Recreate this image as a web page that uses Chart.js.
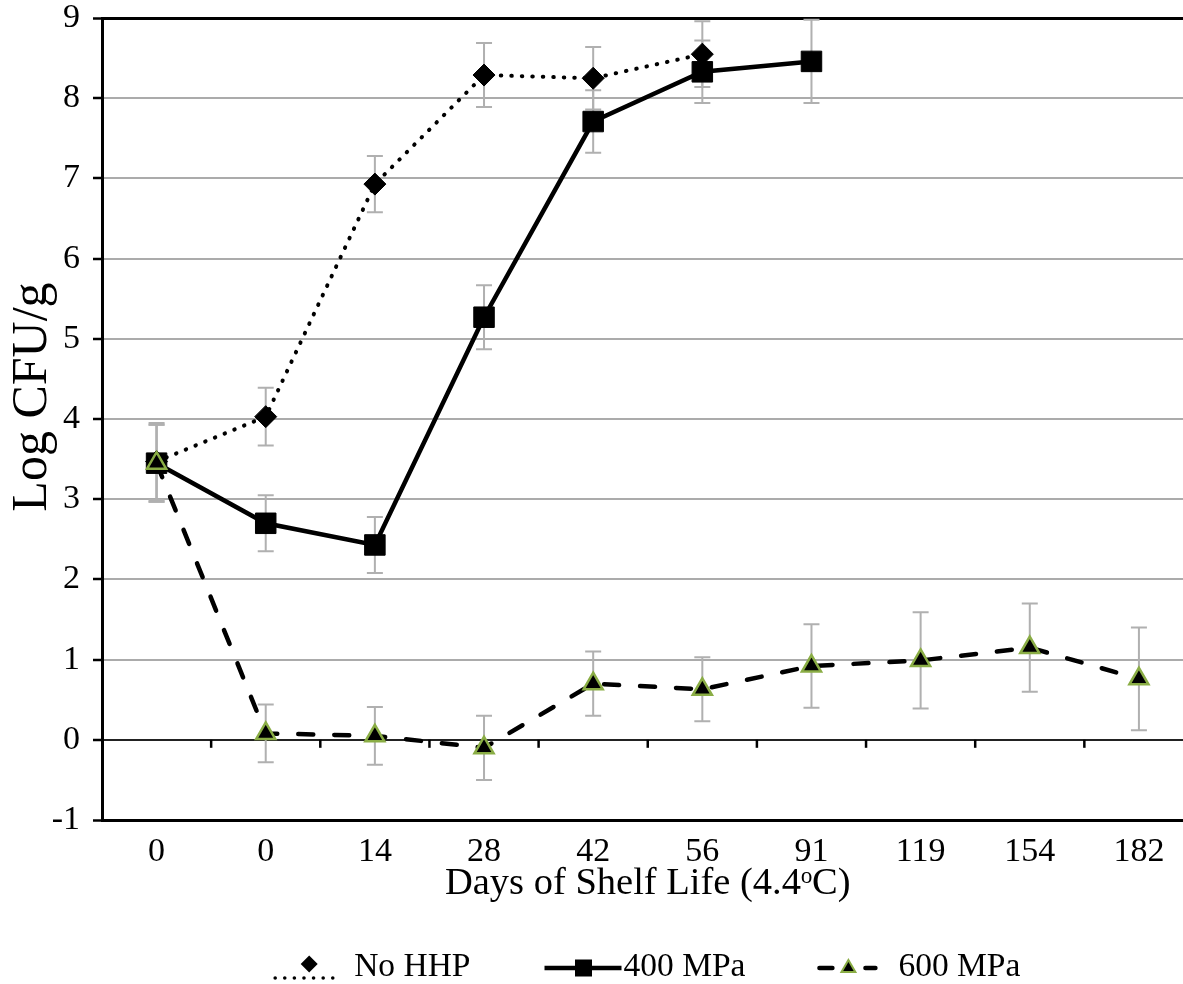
<!DOCTYPE html>
<html><head><meta charset="utf-8">
<script src="https://cdn.jsdelivr.net/npm/chart.js@4.4.1/dist/chart.umd.min.js"></script>
<style>
html,body{margin:0;padding:0;background:#fff;overflow:hidden;width:1183px;height:984px}
#wrap{width:1209px;height:984px;position:relative}
</style></head>
<body><div id="wrap"><canvas id="c" width="1209" height="984"></canvas></div>
<script>
// ---- data ----
const categories = ['0', '0', '14', '28', '42', '56', '91', '119', '154', '182'];
const seriesNames = ['No HHP', '400 MPa', '600 MPa'];
const noHHP = [3.47, 4.03, 6.93, 8.29, 8.25, 8.55];
const noHHPErr = [0.48, 0.36, 0.35, 0.40, 0.39, 0.41];
const mpa400 = [3.45, 2.70, 2.43, 5.27, 7.71, 8.33, 8.46];
const mpa400Err = [0.48, 0.35, 0.35, 0.40, 0.39, 0.39, 0.52];
const mpa600 = [3.45, 0.08, 0.05, -0.10, 0.70, 0.63, 0.92, 0.99, 1.15, 0.76];
const mpa600Err = [0.48, 0.36, 0.36, 0.40, 0.40, 0.40, 0.52, 0.60, 0.55, 0.64];
const yMin = -1, yMax = 9, yStep = 1;
const xTitle = 'Days of Shelf Life (4.4\u1D52C)';
const yTitle = 'Log CFU/g';

const SERIF = '"Liberation Serif", "Times New Roman", serif';
const GREEN = '#8aad45';

const errorBars = {
  id: 'errorBars',
  beforeDatasetsDraw(chart) {
    const {ctx, scales: {x, y}} = chart;
    ctx.save();
    ctx.strokeStyle = '#b0b0b0';
    ctx.lineWidth = 2;
    chart.data.datasets.forEach(ds => {
      ds.data.forEach((v, i) => {
        const e = ds.errors[i];
        const px = x.getPixelForValue(i);
        const t = y.getPixelForValue(v + e), b = y.getPixelForValue(v - e);
        ctx.beginPath();
        ctx.moveTo(px, t); ctx.lineTo(px, b);
        ctx.moveTo(px - 8, t); ctx.lineTo(px + 8, t);
        ctx.moveTo(px - 8, b); ctx.lineTo(px + 8, b);
        ctx.stroke();
      });
    });
    ctx.restore();
  }
};

const zeroTicks = {
  id: 'zeroTicks',
  beforeDatasetsDraw(chart) {
    const {ctx, scales: {x, y}} = chart;
    const y0 = y.getPixelForValue(0);
    ctx.save();
    ctx.strokeStyle = '#000';
    ctx.lineWidth = 2.5;
    for (let i = 1; i < categories.length; i++) {
      const px = (x.getPixelForValue(i - 1) + x.getPixelForValue(i)) / 2;
      ctx.beginPath(); ctx.moveTo(px, y0); ctx.lineTo(px, y0 + 8); ctx.stroke();
    }
    ctx.restore();
  }
};

// custom y-axis title, slightly above the plot centre as in the original
const yTitlePlugin = {
  id: 'yTitlePlugin',
  afterDraw(chart) {
    const {ctx, chartArea} = chart;
    ctx.save();
    ctx.font = '50px ' + SERIF;
    ctx.fillStyle = '#000';
    ctx.textAlign = 'center';
    ctx.textBaseline = 'middle';
    ctx.translate(33, (chartArea.top + chartArea.bottom) / 2 - 22);
    ctx.rotate(-Math.PI / 2);
    ctx.fillText(yTitle, 0, 0);
    ctx.restore();
  }
};

function drawIcon(ctx, i, bx, cy) {
  ctx.save();
  ctx.fillStyle = '#000'; ctx.strokeStyle = '#000';
  if (i === 0) {
    for (let d = 0; d <= 67; d += 9.6) {
      ctx.beginPath(); ctx.arc(bx + d, cy + 12, 1.8, 0, Math.PI * 2); ctx.fill();
    }
    const cx = bx + 34, yy = cy - 2, r = 8.5;
    ctx.beginPath(); ctx.moveTo(cx, yy - r); ctx.lineTo(cx + r, yy); ctx.lineTo(cx, yy + r); ctx.lineTo(cx - r, yy); ctx.closePath(); ctx.fill();
  } else if (i === 1) {
    ctx.lineWidth = 4.5;
    ctx.beginPath(); ctx.moveTo(bx, cy + 2); ctx.lineTo(bx + 77, cy + 2); ctx.stroke();
    ctx.fillRect(bx + 39 - 8.5, cy + 2 - 8.5, 17, 17);
  } else {
    ctx.lineWidth = 4.5; ctx.lineCap = 'round';
    ctx.beginPath(); ctx.moveTo(bx, cy + 2); ctx.lineTo(bx + 13, cy + 2); ctx.stroke();
    ctx.beginPath(); ctx.moveTo(bx + 46, cy + 2); ctx.lineTo(bx + 56, cy + 2); ctx.stroke();
    const cx = bx + 29, r = 8, yy = cy + 2;
    ctx.beginPath(); ctx.moveTo(cx, yy - r); ctx.lineTo(cx + r * 0.87, yy + r * 0.5); ctx.lineTo(cx - r * 0.87, yy + r * 0.5); ctx.closePath();
    ctx.fillStyle = '#000'; ctx.fill(); ctx.lineWidth = 2; ctx.strokeStyle = GREEN; ctx.stroke();
  }
  ctx.restore();
}

const customLegend = {
  id: 'customLegend',
  afterDraw(chart) {
    const {ctx, chartArea} = chart;
    ctx.save();
    ctx.font = '33.5px ' + SERIF;
    ctx.textBaseline = 'middle';
    ctx.fillStyle = '#000';
    const box = 63, gap = 16, itemGap = 74;
    const widths = chart.data.datasets.map(ds => box + gap + ctx.measureText(ds.label).width);
    const total = widths.reduce((a, b) => a + b, 0) + itemGap * (widths.length - 1);
    let x = (chartArea.left + chartArea.right) / 2 - total / 2;
    const cy = chart.height - 18;
    chart.data.datasets.forEach((ds, i) => {
      drawIcon(ctx, i, x, cy);
      ctx.fillText(ds.label, x + box + gap, cy + 1);
      x += widths[i] + itemGap;
    });
    ctx.restore();
  }
};

new Chart(document.getElementById('c'), {
  type: 'line',
  data: {
    labels: categories,
    datasets: [
      {
        label: seriesNames[0], data: noHHP, errors: noHHPErr, order: 3,
        borderColor: '#000', borderWidth: 4, borderDash: [0.5, 10], borderCapStyle: 'round',
        pointStyle: 'rectRot', pointRadius: 11, pointBackgroundColor: '#000', pointBorderColor: '#000', pointBorderWidth: 1,
        fill: false, tension: 0
      },
      {
        label: seriesNames[1], data: mpa400, errors: mpa400Err, order: 2,
        borderColor: '#000', borderWidth: 4.5,
        pointStyle: 'rect', pointRadius: 14.5, pointBackgroundColor: '#000', pointBorderColor: '#000', pointBorderWidth: 1,
        fill: false, tension: 0
      },
      {
        label: seriesNames[2], data: mpa600, errors: mpa600Err, order: 1,
        borderColor: '#000', borderWidth: 4.5, borderDash: [15, 21], borderCapStyle: 'round',
        pointStyle: 'triangle', pointRadius: 11, pointBackgroundColor: '#000', pointBorderColor: GREEN, pointBorderWidth: 2.5,
        fill: false, tension: 0
      }
    ]
  },
  options: {
    responsive: false,
    animation: false,
    events: [],
    layout: {padding: {top: 8, right: 7, bottom: 77, left: 0}},
    plugins: {legend: {display: false}, tooltip: {enabled: false}},
    scales: {
      x: {
        type: 'category',
        offset: true,
        grid: {display: false, drawTicks: false},
        border: {display: true, color: '#000', width: 3},
        ticks: {color: '#000', font: {family: SERIF, size: 34, lineHeight: 1}, padding: 15, maxRotation: 0, autoSkip: false},
        title: {display: true, text: xTitle, color: '#000', font: {family: SERIF, size: 38.5, lineHeight: 1.2}, padding: {top: 0, bottom: 0}},
        afterFit(scale) { scale.height = 87; }
      },
      y: {
        min: yMin, max: yMax,
        grid: {
          color: c => (c.tick && (c.tick.value === 0)) ? '#222' : (c.tick && (c.tick.value === yMax || c.tick.value === yMin) ? '#000' : '#ababab'),
          lineWidth: c => (c.tick && (c.tick.value === yMax || c.tick.value === yMin)) ? 3 : 2,
          drawTicks: true, tickLength: 9, tickColor: '#000', tickWidth: 2.5
        },
        border: {display: true, color: '#000', width: 3},
        ticks: {stepSize: yStep, color: '#000', font: {family: SERIF, size: 34, lineHeight: 0.3}, padding: 13},
        title: {display: false},
        afterFit(scale) { scale.width = 102; }
      }
    }
  },
  plugins: [errorBars, zeroTicks, yTitlePlugin, customLegend]
});
</script>
</body></html>
